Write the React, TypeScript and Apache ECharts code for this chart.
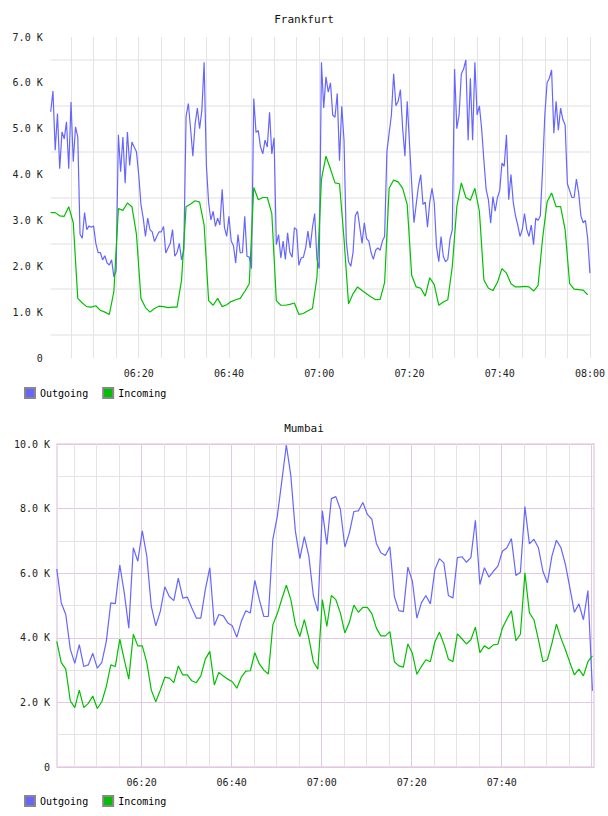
import { useEffect, useRef } from "react";
import * as echarts from "echarts";

// Traffic in K per sample. Times are minutes after 06:00.
const FRA_OUT_START = 0.5;
const FRA_OUT_STEP = 0.5;
const FRA_OUT = [
  5.37, 5.82, 4.53, 5.33, 4.13, 4.93, 4.78, 5.15, 4.13, 5.58,
  4.28, 5.04, 4.82, 2.7, 2.61, 3.17, 2.8, 2.88, 2.85, 2.88,
  2.5, 2.3, 2.3, 2.14, 2.23, 2.07, 2.03, 2.14, 1.77, 1.9,
  4.87, 4.06, 4.82, 3.81, 4.93, 4.2, 4.71, 4.6, 4.5, 4.0,
  3.35, 3.05, 2.65, 3.05, 2.8, 2.75, 2.54, 2.65, 2.75, 2.75,
  2.87, 2.29, 2.4, 2.5, 2.8, 2.22, 2.3, 2.5, 2.14, 2.36,
  5.27, 5.55, 5.0, 4.4, 5.1, 5.45, 5.0, 5.4, 6.45, 4.2,
  3.38, 3.01, 3.2, 2.87, 3.05, 2.9, 3.68, 2.85, 2.65, 3.09,
  2.55, 2.45, 2.07, 2.69, 2.29, 2.3, 3.09, 2.22, 2.2, 1.95,
  5.66, 4.92, 4.96, 4.6, 4.45, 4.75, 4.6, 5.36, 4.45, 4.8,
  2.47, 2.69, 2.18, 2.55, 2.15, 2.73, 2.3, 2.2, 2.84, 2.8,
  2.02, 2.18, 2.2, 2.4, 2.77, 2.4, 2.84, 3.15, 2.15, 1.95,
  6.45, 5.45, 6.13, 5.8, 6.0, 5.3, 5.25, 5.77, 4.3, 5.49,
  4.75, 2.55, 2.1, 2.0, 2.3, 3.1, 3.2, 2.85, 2.5, 2.95,
  2.6, 2.55, 2.3, 2.15, 2.35, 2.4, 2.35, 2.55, 2.65, 4.5,
  4.9, 5.3, 6.2, 5.5, 5.6, 5.85, 5.0, 4.4, 5.6, 4.7,
  3.8, 2.95, 3.35, 3.75, 4.0, 3.35, 3.4, 2.85, 3.4, 3.7,
  3.38, 2.43, 2.1, 2.65, 2.22, 2.1, 2.15, 2.6, 2.8, 6.3,
  5.0, 5.3, 6.2, 6.3, 6.5, 4.75, 6.1, 4.75, 6.45, 5.3,
  5.5, 5.0, 4.3, 3.67, 3.45, 2.94, 3.52, 3.2, 3.5, 3.65,
  4.25, 4.18, 4.87, 3.45, 4.0, 3.4, 3.1, 2.9, 2.65, 2.8,
  3.15, 2.8, 2.65, 2.9, 2.47, 3.05, 3.0, 3.1, 4.1, 5.3,
  6.0, 6.1, 6.28, 4.9, 5.6, 4.97, 5.45, 5.2, 5.08, 3.8,
  3.65, 3.5, 3.5, 3.9, 3.6, 3.1, 2.95, 3.0, 2.6, 1.85,
];

const FRA_IN_START = 0.5;
const FRA_IN_STEP = 1;
const FRA_IN = [
  3.17, 3.17, 3.1, 3.09, 3.3, 2.95, 1.3, 1.2, 1.12, 1.11,
  1.14, 1.04, 1.0, 0.95, 1.45, 3.26, 3.22, 3.38, 3.3, 2.7,
  1.3, 1.1, 1.0, 1.08, 1.13, 1.12, 1.1, 1.11, 1.11, 1.7,
  3.3, 3.36, 3.43, 3.4, 2.9, 1.25, 1.15, 1.3, 1.12, 1.16,
  1.23, 1.27, 1.3, 1.45, 1.62, 3.72, 3.45, 3.5, 3.5, 3.15,
  1.25, 1.15, 1.15, 1.17, 1.2, 0.95, 0.97, 1.03, 1.08, 1.75,
  3.9, 4.4, 4.12, 3.82, 3.8, 2.6, 1.18, 1.4, 1.55, 1.47,
  1.4, 1.33, 1.27, 1.28, 1.65, 3.7, 3.88, 3.84, 3.7, 3.35,
  1.8, 1.55, 1.52, 1.35, 1.75, 1.6, 1.15, 1.22, 1.27, 2.0,
  3.3, 3.82, 3.5, 3.44, 3.7, 3.2, 1.7, 1.52, 1.47, 1.65,
  1.95, 1.85, 1.62, 1.55, 1.55, 1.56, 1.55, 1.46, 1.58, 2.6,
  3.4, 3.6, 3.3, 3.3, 2.8, 1.62, 1.5, 1.49, 1.48, 1.38,
];

const MUM_START = 1.15;
const MUM_STEP = 1;
const MUM_OUT = [
  6.13, 5.08, 4.72, 3.65, 3.21, 3.79, 3.11, 3.16, 3.52, 3.06,
  3.23, 3.89, 5.08, 5.06, 6.25, 5.39, 4.3, 6.79, 6.37, 7.31,
  6.53, 4.97, 4.37, 4.82, 5.58, 5.28, 5.15, 5.85, 5.23, 5.26,
  4.92, 4.61, 4.61, 5.49, 6.17, 4.38, 4.72, 4.68, 4.46, 4.37,
  4.02, 4.51, 4.84, 4.77, 5.78, 5.18, 4.66, 4.66, 7.05, 7.77,
  8.86, 9.97, 9.02, 7.31, 6.45, 7.13, 6.53, 5.31, 4.82, 7.93,
  6.89, 8.31, 8.37, 7.98, 6.81, 7.25, 7.91, 7.93, 8.19, 7.82,
  7.67, 6.92, 6.63, 6.55, 6.82, 5.28, 4.84, 4.81, 6.19, 5.75,
  4.61, 5.08, 5.31, 5.05, 6.11, 6.45, 6.32, 5.31, 5.23, 6.48,
  6.51, 6.34, 6.48, 7.64, 5.65, 6.17, 5.88, 6.06, 6.22, 6.68,
  6.79, 7.07, 5.93, 6.03, 8.06, 6.91, 7.05, 6.79, 6.06, 5.7,
  6.53, 7.02, 6.79, 6.27, 5.54, 4.79, 5.05, 4.56, 5.46, 2.36,
];
const MUM_IN = [
  3.89, 3.23, 3.03, 2.05, 1.84, 2.38, 1.84, 1.97, 2.2, 1.81,
  2.02, 2.49, 3.16, 3.11, 3.96, 3.32, 2.72, 4.11, 3.75, 3.75,
  3.23, 2.38, 2.02, 2.38, 2.78, 2.75, 2.61, 3.13, 2.85, 2.85,
  2.67, 2.61, 2.82, 3.34, 3.58, 2.54, 2.93, 2.82, 2.72, 2.64,
  2.44, 2.78, 2.97, 2.98, 3.54, 3.19, 3.0, 2.88, 4.4, 4.75,
  5.2, 5.63, 5.18, 4.42, 4.04, 4.56, 3.99, 3.26, 3.03, 5.18,
  4.35, 5.31, 5.18, 4.77, 4.15, 4.48, 5.01, 4.79, 4.94, 4.94,
  4.75, 4.3, 4.06, 4.06, 4.19, 3.26, 3.13, 3.09, 3.81, 3.52,
  2.87, 3.11, 3.32, 3.26, 3.87, 4.17, 3.81, 3.34, 3.26, 4.12,
  3.97, 3.81, 3.94, 4.33, 3.54, 3.75, 3.66, 3.78, 3.8, 4.3,
  4.58, 4.84, 3.91, 4.11, 6.01, 4.77, 4.56, 3.94, 3.26, 3.32,
  3.83, 4.42, 3.99, 3.63, 3.23, 2.85, 3.03, 2.82, 3.26, 3.44,
];

const SERIES_NAMES = ["Outgoing", "Incoming"];
const TITLES = ["Frankfurt", "Mumbai"];

const MONO = "DejaVu Sans Mono";
const BLUE = "#6666ff";
const GREEN = "#00c000";
const PINK = "#e2c8e2";
const GRAY = "#e4e4e4";

const toPairs = (values: number[], start: number, step: number) =>
  values.map((v, i) => [start + i * step, v]);

const pad = (n: number) => (n < 10 ? "0" + n : String(n));
const clock = (m: number) => pad(6 + Math.floor(m / 60)) + ":" + pad(Math.round(m % 60));
const isMultiple = (v: number, step: number) => Math.abs(v / step - Math.round(v / step)) < 1e-6;

const kLabel = (v: number) => (v === 0 ? "0" : v.toFixed(1) + " K");

const labelStyle = { fontFamily: MONO, fontSize: 10, color: "#222" };

const legendAt = (top: number) => ({
  data: SERIES_NAMES,
  left: 24,
  top,
  padding: 0,
  icon: "rect",
  itemWidth: 10,
  itemHeight: 10,
  itemGap: 14,
  selectedMode: false,
  textStyle: { fontFamily: MONO, fontSize: 10, color: "#000" },
});

const titleAt = (text: string, top: number) => ({
  text,
  left: "center",
  top,
  padding: 0,
  textStyle: { fontFamily: MONO, fontSize: 11, fontWeight: "normal", color: "#111" },
});

export default function App() {
  const ref = useRef<HTMLDivElement>(null);

  useEffect(() => {
    if (!ref.current) return;
    const chart = echarts.init(ref.current, null, { renderer: "svg" });

    const lineSeries = (
      name: string,
      color: string,
      data: number[][],
      axis: number,
      yAxis: number
    ) => ({
      name,
      type: "line",
      xAxisIndex: axis,
      yAxisIndex: yAxis,
      data,
      showSymbol: false,
      symbol: "none",
      lineStyle: { color, width: 1.2 },
      itemStyle: { color, borderColor: "#888", borderWidth: 1 },
      emphasis: { disabled: true },
    });

    chart.setOption({
      animation: false,
      backgroundColor: "#ffffff",
      title: [titleAt(TITLES[0], 14), titleAt(TITLES[1], 423)],
      legend: [legendAt(387), legendAt(795)],
      grid: [
        { left: 50.7, top: 37, width: 540.8, height: 321 },
        {
          left: 57,
          top: 444,
          width: 537,
          height: 323,
          show: true,
          borderColor: "#eedcee",
          borderWidth: 2,
          backgroundColor: "transparent",
        },
      ],
      xAxis: [
        {
          gridIndex: 0,
          type: "value",
          min: 0.5,
          max: 120,
          splitNumber: 24,
          minInterval: 5,
          maxInterval: 5,
          axisLine: { show: false },
          axisTick: { show: false },
          axisLabel: {
            ...labelStyle,
            margin: 10,
            formatter: (v: number) => (v > 0 && isMultiple(v, 20) ? clock(v) : ""),
          },
          splitLine: {
            show: true,
            showMinLine: false,
            lineStyle: { color: GRAY, width: 1 },
          },
        },
        {
          gridIndex: 1,
          type: "value",
          position: "bottom",
          min: 1.2,
          max: 120.5,
          splitNumber: 24,
          minInterval: 5,
          maxInterval: 5,
          axisLine: { show: false },
          axisTick: { show: false },
          axisLabel: { show: false },
          splitLine: {
            show: true,
            showMinLine: false,
            showMaxLine: false,
            lineStyle: { color: GRAY, width: 1 },
          },
        },
        {
          gridIndex: 1,
          type: "value",
          position: "bottom",
          min: 1.2,
          max: 120.5,
          splitNumber: 6,
          minInterval: 20,
          maxInterval: 20,
          axisLine: { show: false },
          axisTick: { show: false },
          axisLabel: {
            ...labelStyle,
            margin: 10,
            formatter: (v: number) => (v > 0 && v < 120 && isMultiple(v, 20) ? clock(v) : ""),
          },
          splitLine: {
            show: true,
            showMinLine: false,
            showMaxLine: false,
            lineStyle: { color: PINK, width: 1 },
          },
        },
      ],
      yAxis: [
        {
          gridIndex: 0,
          type: "value",
          min: 0,
          max: 7,
          interval: 1,
          axisLine: { show: false },
          axisTick: { show: false },
          axisLabel: { ...labelStyle, margin: 8, formatter: kLabel },
          splitLine: { show: false },
          minorTick: { show: false, splitNumber: 2 },
          minorSplitLine: { show: true, lineStyle: { color: "#efefef", width: 2 } },
        },
        {
          gridIndex: 1,
          type: "value",
          min: 0,
          max: 10,
          interval: 2,
          axisLine: { show: false },
          axisTick: { show: false },
          axisLabel: { ...labelStyle, margin: 7, formatter: kLabel },
          splitLine: { show: true, lineStyle: { color: PINK, width: 1 } },
          minorTick: { show: false, splitNumber: 2 },
          minorSplitLine: { show: true, lineStyle: { color: GRAY, width: 1 } },
        },
      ],
      series: [
        lineSeries(SERIES_NAMES[0], BLUE, toPairs(FRA_OUT, FRA_OUT_START, FRA_OUT_STEP), 0, 0),
        lineSeries(SERIES_NAMES[1], GREEN, toPairs(FRA_IN, FRA_IN_START, FRA_IN_STEP), 0, 0),
        lineSeries(SERIES_NAMES[0], BLUE, toPairs(MUM_OUT, MUM_START, MUM_STEP), 1, 1),
        lineSeries(SERIES_NAMES[1], GREEN, toPairs(MUM_IN, MUM_START, MUM_STEP), 1, 1),
      ],
    });

    return () => chart.dispose();
  }, []);

  return (
    <div
      ref={ref}
      style={{ position: "fixed", left: 0, top: 0, width: 608, height: 816, background: "#fff" }}
    />
  );
}
